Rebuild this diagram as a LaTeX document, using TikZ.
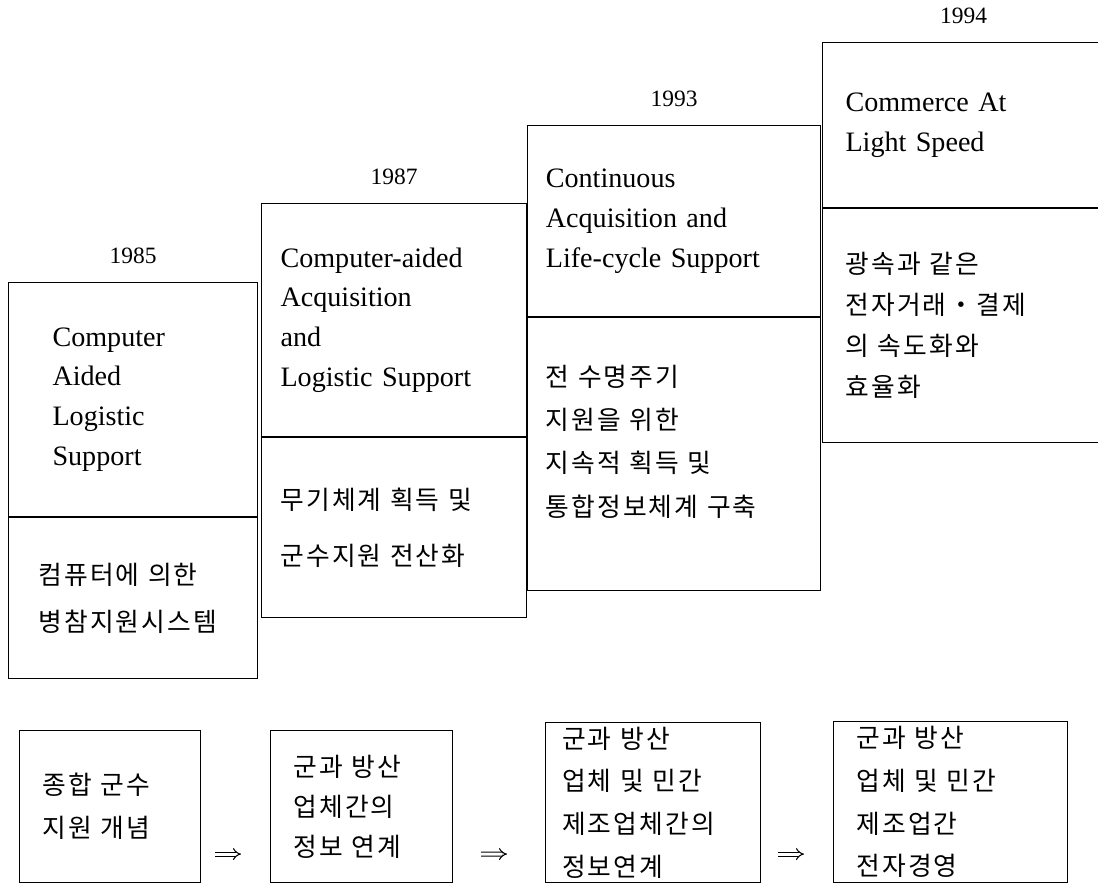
\documentclass[tikz,border=0pt]{standalone}
\usepackage{fontspec}
\setmainfont{Liberation Serif}
\newfontfamily\krfont[LetterSpace=8]{Noto Sans CJK KR}
\newcommand\engfont{\fontsize{24}{34}\selectfont\spaceskip=0.6em plus 1pt\relax}
\newcommand\korfont[1]{\krfont\fontsize{22}{#1}\selectfont\spaceskip=0.65em\relax}
\usetikzlibrary{arrows.meta,positioning,calc}
\tikzset{
  stagebox/.style={draw=black,line width=0.9pt,anchor=north west,inner ysep=0pt,align=left},
  engtext/.style={font=\engfont},
  kortext/.style={font=\korfont{#1}},
  yearlbl/.style={font=\fontsize{20}{24}\selectfont,inner sep=0pt},
  flowbox/.style={draw=black,line width=0.9pt,anchor=north west,align=left,inner ysep=0pt},
  flowarrow/.style={double,double distance=2.6pt,line width=0.9pt,-{Implies}}
}
\begin{document}
\begin{tikzpicture}[x=0.03cm,y=-0.03cm]
  \path[use as bounding box,fill=white] (0,0) rectangle (1098,884);

  \node[stagebox,engtext,minimum width=7.47cm,minimum height=7.02cm,text width=4.83cm,inner xsep=1.32cm] (c85t) at (8,282) {Computer\\Aided\\Logistic\\Support};
  \node[stagebox,kortext=40pt,minimum width=7.47cm,minimum height=4.83cm,text width=5.67cm,inner xsep=0.9cm] (c85b) at (c85t.south west) {컴퓨터에~의한\\병참지원시스템};
  \node[yearlbl,above=0.55cm of c85t] (y85) {1985};

  \node[stagebox,engtext,minimum width=7.95cm,minimum height=6.99cm,text width=6.81cm,inner xsep=0.57cm] (c87t) at (261,203) {Computer-aided\\Acquisition\\and\\Logistic Support};
  \node[stagebox,kortext=48pt,minimum width=7.95cm,minimum height=5.40cm,text width=6.81cm,inner xsep=0.57cm] (c87b) at (c87t.south west) {무기체계~획득~및\\군수지원~전산화};
  \node[yearlbl,above=0.55cm of c87t] (y87) {1987};

  \node[stagebox,engtext,minimum width=8.79cm,minimum height=5.73cm,text width=7.69cm,inner xsep=0.55cm] (c93t) at (527,125) {Continuous\\Acquisition and\\Life-cycle Support};
  \node[stagebox,kortext=37pt,minimum width=8.79cm,minimum height=8.19cm,text width=7.69cm,inner xsep=0.55cm,text depth=134pt] (c93b) at (c93t.south west) {전 수명주기\\지원을 위한\\지속적~획득~및\\통합정보체계~구축};
  \node[yearlbl,above=0.55cm of c93t] (y93) {1993};

  \node[stagebox,engtext,minimum width=8.46cm,minimum height=4.95cm,text width=7.08cm,inner xsep=0.69cm] (c94t) at (822,42) {Commerce At\\Light Speed};
  \node[stagebox,kortext=35pt,minimum width=8.46cm,minimum height=7.02cm,text width=7.08cm,inner xsep=0.69cm] (c94b) at (c94t.south west) {광속과 같은\\전자거래・결제\\의 속도화와\\효율화};
  \node[yearlbl,above=0.55cm of c94t] (y94) {1994};

  \node[flowbox,kortext=36.5pt,minimum width=5.43cm,minimum height=4.56cm,text width=4.05cm,inner xsep=0.69cm] (f1) at (19,730) {종합 군수\\지원 개념};
  \node[flowbox,kortext=34pt,minimum width=5.46cm,minimum height=4.56cm,text width=4.08cm,inner xsep=0.69cm] (f2) at (270,730) {군과 방산\\업체간의\\정보 연계};
  \node[flowbox,kortext=36.5pt,minimum width=6.45cm,minimum height=4.80cm,text width=5.45cm,inner xsep=0.5cm] (f3) at (545,722) {군과 방산\\업체~및~민간\\제조업체간의\\정보연계};
  \node[flowbox,kortext=36.5pt,minimum width=7.02cm,minimum height=4.83cm,text width=5.64cm,inner xsep=0.69cm] (f4) at (833,721) {군과 방산\\업체~및~민간\\제조업간\\전자경영};

  \draw[flowarrow,shorten <=0.42cm,shorten >=0.87cm] ([yshift=0.87cm]f1.south east) -- ([yshift=0.87cm]f2.south west);
  \draw[flowarrow,shorten <=0.84cm,shorten >=1.14cm] ([yshift=0.87cm]f2.south east) -- ([yshift=0.87cm]f3.south west);
  \draw[flowarrow,shorten <=0.51cm,shorten >=0.87cm] ([yshift=0.87cm]f3.south east) -- ([yshift=0.87cm]f4.south west);
\end{tikzpicture}
\end{document}
